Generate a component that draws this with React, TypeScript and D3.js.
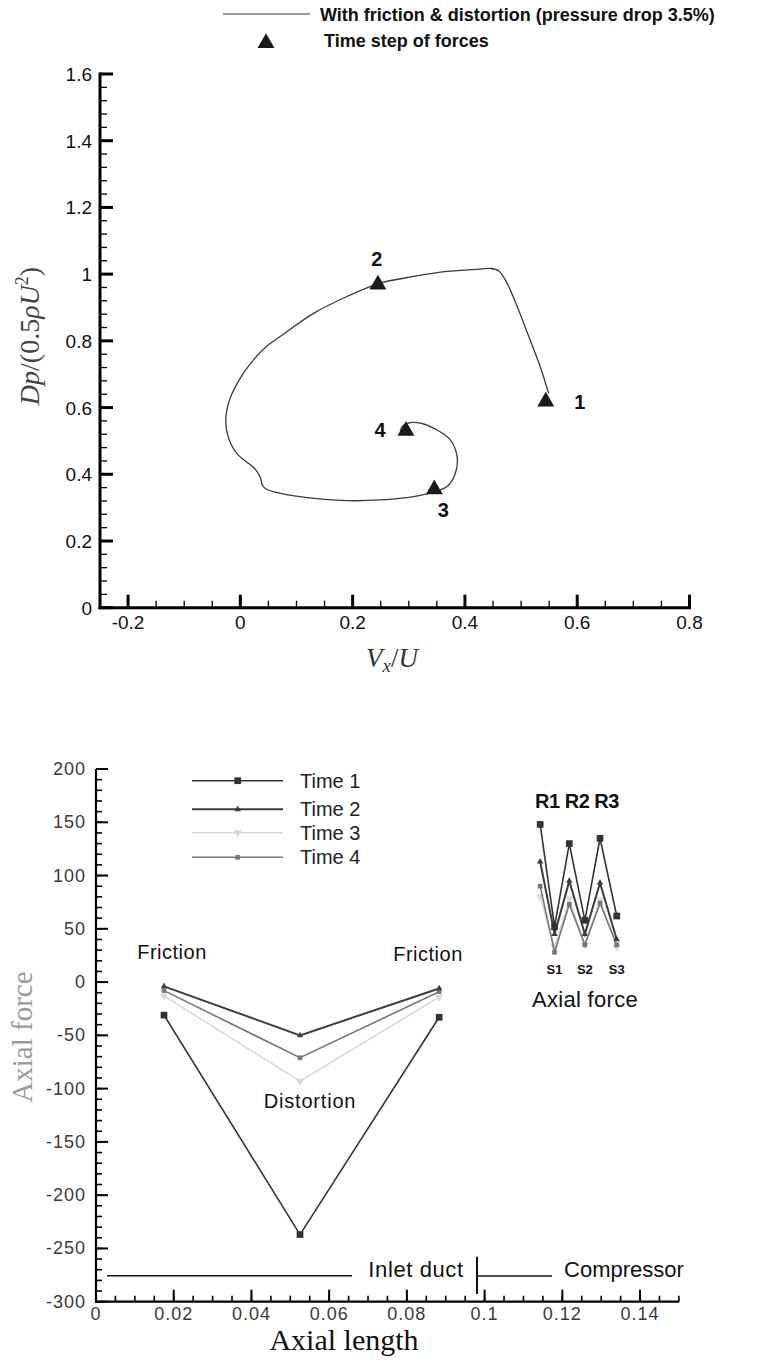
import React from 'react'
import * as d3 from 'd3'

// ---- top chart: pressure / velocity trajectory ----
const trajX = [0.549, 0.534, 0.516, 0.493, 0.475, 0.46, 0.445, 0.427, 0.368, 0.309, 0.249, 0.19, 0.131, 0.071, 0.046, 0.025, 0.007, -0.007, -0.018, -0.024, -0.026, -0.024, -0.016, -0.004, 0.011, 0.023, 0.03, 0.036, 0.039, 0.046, 0.071, 0.131, 0.19, 0.249, 0.309, 0.346, 0.368, 0.383, 0.386, 0.374, 0.35, 0.321, 0.303, 0.288, 0.285]
const trajY = [0.643, 0.723, 0.803, 0.903, 0.973, 1.01, 1.017, 1.015, 1.008, 0.993, 0.973, 0.933, 0.883, 0.813, 0.782, 0.746, 0.707, 0.668, 0.629, 0.593, 0.563, 0.527, 0.488, 0.458, 0.437, 0.422, 0.407, 0.389, 0.368, 0.356, 0.343, 0.328, 0.321, 0.323, 0.333, 0.348, 0.363, 0.403, 0.453, 0.503, 0.533, 0.553, 0.555, 0.543, 0.528]
const stepX = [0.544, 0.245, 0.3455, 0.295]
const stepY = [0.618, 0.969, 0.355, 0.53]
const stepLabels = ['1', '2', '3', '4']
const topXTicks = [-0.2, 0, 0.2, 0.4, 0.6, 0.8]
const topXTickLabels = ['-0.2', '0', '0.2', '0.4', '0.6', '0.8']
const topYTicks = [0, 0.2, 0.4, 0.6, 0.8, 1, 1.2, 1.4, 1.6]
const topYTickLabels = ['0', '0.2', '0.4', '0.6', '0.8', '1', '1.2', '1.4', '1.6']

// ---- bottom chart: axial force ----
const axialX = [0.0175, 0.0525, 0.0883]
const time1 = [-31, -237, -33]
const time2 = [-4, -50, -6]
const time3 = [-13, -93, -14]
const time4 = [-8, -71, -9]
const insetX = [0.1143, 0.118, 0.1218, 0.1258, 0.1297, 0.134]
const time1Inset = [148, 52, 130, 58, 135, 62]
const time2Inset = [113, 45, 95, 45, 93, 40]
const time3Inset = [80, 33, 78, 35, 77, 33]
const time4Inset = [90, 28, 73, 35, 74, 35]
const seriesNames = ['Time 1', 'Time 2', 'Time 3', 'Time 4']
const botXTicks = [0, 0.02, 0.04, 0.06, 0.08, 0.1, 0.12, 0.14]
const botXTickLabels = ['0', '0.02', '0.04', '0.06', '0.08', '0.1', '0.12', '0.14']
const botYTicks = [200, 150, 100, 50, 0, -50, -100, -150, -200, -250, -300]
const botYTickLabels = ['200', '150', '100', '50', '0', '-50', '-100', '-150', '-200', '-250', '-300']

const SANS = 'Liberation Sans, Arial, Helvetica, sans-serif'
const SERIF = 'Liberation Serif, Times New Roman, serif'

const seriesStyle = [
  { color: '#333', width: 1.6, shape: d3.symbolSquare, size: 45, rot: 0 },
  { color: '#3c3c3c', width: 2, shape: d3.symbolTriangle, size: 18, rot: 0 },
  { color: '#d8d8d8', width: 1.6, shape: d3.symbolTriangle, size: 30, rot: 180 },
  { color: '#777', width: 1.6, shape: d3.symbolSquare, size: 22, rot: 0 },
]

export default function App() {
  // top scales
  const xT = d3.scaleLinear().domain([-0.25, 0.8]).range([100, 689.5])
  const yT = d3.scaleLinear().domain([0, 1.6]).range([607.7, 74])
  const traj = d3.line<number>()
    .x(i => xT(trajX[i]))
    .y(i => yT(trajY[i]))
    .curve(d3.curveCatmullRom.alpha(0.5))(d3.range(trajX.length))
  const tri = d3.symbol().type(d3.symbolTriangle).size(125)()
  const labelOffsets = [[34, 7], [-1, -18], [9, 28], [-26, 6]]

  const topYMinor = d3.range(0, 1.6001, 0.04)
  const topXMinor = d3.range(-0.25, 0.8001, 0.05)

  // bottom scales
  const xB = d3.scaleLinear().domain([0, 0.15]).range([96, 678.9])
  const yB = d3.scaleLinear().domain([-300, 200]).range([1301.7, 769])
  const botYMinor = d3.range(-300, 200.001, 10)
  const botXMinor = d3.range(0, 0.15001, 0.005)

  const mainSeries = [time1, time2, time3, time4]
  const insetSeries = [time1Inset, time2Inset, time3Inset, time4Inset]
  const drawOrder = [2, 3, 1, 0]

  const lineB = (xs: number[], ys: number[]) =>
    d3.line<number>().x(i => xB(xs[i])).y(i => yB(ys[i]))(d3.range(xs.length))

  const marker = (s: number, x: number, y: number, k: string) => {
    const st = seriesStyle[s]
    return (
      <path key={k} d={d3.symbol().type(st.shape).size(st.size)() || ''}
        transform={`translate(${x},${y}) rotate(${st.rot})`} fill={st.color} />
    )
  }

  const legendY = [780.7, 809.3, 832.7, 857.3]

  return (
    <div style={{ position: 'absolute', left: 0, top: 0 }}>
      <svg width={778} height={1363} style={{ display: 'block', background: '#fff' }}>
        {/* ===== top legend ===== */}
        <line x1={223} x2={310} y1={14} y2={14} stroke="#333" strokeWidth={1.2} />
        <text x={320} y={20.5} fontFamily={SANS} fontWeight="bold" fontSize={18} fill="#111">
          With friction &amp; distortion (pressure drop 3.5%)
        </text>
        <path d={tri || ''} transform="translate(266,43)" fill="#1a1a1a" />
        <text x={324} y={47} fontFamily={SANS} fontWeight="bold" fontSize={18} fill="#111">Time step of forces</text>

        {/* ===== top axes ===== */}
        <g stroke="#000">
          <line x1={xT(-0.25)} x2={xT(-0.25)} y1={yT(0) + 1.5} y2={yT(1.6) - 1.5} strokeWidth={3} />
          <line x1={xT(-0.25) - 1.5} x2={xT(0.8) + 1.5} y1={yT(0)} y2={yT(0)} strokeWidth={3} />
          {topYMinor.map((v, i) => (
            <line key={'tym' + i} x1={xT(-0.25)} x2={xT(-0.25) + 7} y1={yT(v)} y2={yT(v)} strokeWidth={1.3} />
          ))}
          {topYTicks.map((v, i) => (
            <line key={'tyM' + i} x1={xT(-0.25)} x2={xT(-0.25) + 13} y1={yT(v)} y2={yT(v)} strokeWidth={3} />
          ))}
          {topXMinor.map((v, i) => (
            <line key={'txm' + i} x1={xT(v)} x2={xT(v)} y1={yT(0)} y2={yT(0) - 7} strokeWidth={1.3} />
          ))}
          {topXTicks.map((v, i) => (
            <line key={'txM' + i} x1={xT(v)} x2={xT(v)} y1={yT(0)} y2={yT(0) - 13} strokeWidth={3} />
          ))}
        </g>
        <g fontFamily={SANS} fontSize={19} fill="#111">
          {topYTicks.map((v, i) => (
            <text key={'tyl' + i} x={92} y={yT(v) + 7} textAnchor="end">{topYTickLabels[i]}</text>
          ))}
          {topXTicks.map((v, i) => (
            <text key={'txl' + i} x={xT(v)} y={629} textAnchor="middle">{topXTickLabels[i]}</text>
          ))}
        </g>
        <text x={392} y={667} textAnchor="middle" fontFamily={SERIF} fontSize={27} fill="#333">
          <tspan fontStyle="italic">V</tspan>
          <tspan fontStyle="italic" fontSize={19} dy={5}>x</tspan>
          <tspan dy={-5}>/</tspan>
          <tspan fontStyle="italic">U</tspan>
        </text>
        <text transform="translate(39,336) rotate(-90)" textAnchor="middle" fontFamily={SERIF} fontSize={28} fill="#444">
          <tspan fontStyle="italic">Dp</tspan>
          <tspan>/(0.5</tspan>
          <tspan fontStyle="italic">ρU</tspan>
          <tspan fontSize={18} dy={-11}>2</tspan>
          <tspan dy={11}>)</tspan>
        </text>

        {/* ===== top trajectory ===== */}
        <path d={traj || ''} fill="none" stroke="#3a3a3a" strokeWidth={1.3} />
        {stepX.map((v, i) => (
          <g key={'st' + i}>
            <path d={tri || ''} transform={`translate(${xT(v)},${yT(stepY[i])})`} fill="#1a1a1a" />
            <text x={xT(v) + labelOffsets[i][0]} y={yT(stepY[i]) + labelOffsets[i][1]} textAnchor="middle"
              fontFamily={SANS} fontWeight="bold" fontSize={20} fill="#111">{stepLabels[i]}</text>
          </g>
        ))}

        {/* ===== bottom axes ===== */}
        <g stroke="#000">
          <line x1={xB(0)} x2={xB(0)} y1={yB(-300) + 1} y2={yB(200)} strokeWidth={2.2} />
          <line x1={xB(0) - 1} x2={xB(0.15)} y1={yB(-300)} y2={yB(-300)} strokeWidth={2.2} />
          {botYMinor.map((v, i) => (
            <line key={'bym' + i} x1={xB(0)} x2={xB(0) + 6} y1={yB(v)} y2={yB(v)} strokeWidth={1.6} />
          ))}
          {botYTicks.map((v, i) => (
            <line key={'byM' + i} x1={xB(0)} x2={xB(0) + 12} y1={yB(v)} y2={yB(v)} strokeWidth={2} />
          ))}
          {botXMinor.map((v, i) => (
            <line key={'bxm' + i} x1={xB(v)} x2={xB(v)} y1={yB(-300)} y2={yB(-300) - 6} strokeWidth={1.6} />
          ))}
          {botXTicks.map((v, i) => (
            <line key={'bxM' + i} x1={xB(v)} x2={xB(v)} y1={yB(-300)} y2={yB(-300) - 12} strokeWidth={2} />
          ))}
        </g>
        <g fontFamily={SANS} fontSize={18} fill="#3a3a3a" letterSpacing={1}>
          {botYTicks.map((v, i) => (
            <text key={'byl' + i} x={86} y={yB(v) + 6} textAnchor="end">{botYTickLabels[i]}</text>
          ))}
          {botXTicks.map((v, i) => (
            <text key={'bxl' + i} x={xB(v)} y={1320} textAnchor="middle">{botXTickLabels[i]}</text>
          ))}
        </g>
        <text transform="translate(32,1037) rotate(-90)" textAnchor="middle" fontFamily={SERIF} fontSize={29} fill="#9a9a9a">Axial force</text>
        <text x={344} y={1350} textAnchor="middle" fontFamily={SERIF} fontSize={30} fill="#111">Axial length</text>

        {/* ===== bottom series ===== */}
        {drawOrder.map(s => (
          <g key={'ser' + s}>
            <path d={lineB(axialX, mainSeries[s]) || ''} fill="none" stroke={seriesStyle[s].color} strokeWidth={seriesStyle[s].width} />
            <path d={lineB(insetX, insetSeries[s]) || ''} fill="none" stroke={seriesStyle[s].color} strokeWidth={seriesStyle[s].width} />
            {axialX.map((x, i) => marker(s, xB(x), yB(mainSeries[s][i]), `m${s}-${i}`))}
            {insetX.map((x, i) => marker(s, xB(x), yB(insetSeries[s][i]), `n${s}-${i}`))}
          </g>
        ))}

        {/* legend */}
        {seriesNames.map((name, s) => (
          <g key={'lg' + s}>
            <line x1={192} x2={283} y1={legendY[s]} y2={legendY[s]} stroke={seriesStyle[s].color} strokeWidth={seriesStyle[s].width} />
            {marker(s, 237.7, legendY[s], 'lm' + s)}
            <text x={300} y={legendY[s] + 7} fontFamily={SANS} fontSize={20} fill="#222">{name}</text>
          </g>
        ))}

        {/* annotations */}
        <g fontFamily={SANS} fill="#111">
          <text x={172} y={959} textAnchor="middle" fontSize={20} letterSpacing={0.5}>Friction</text>
          <text x={428} y={961} textAnchor="middle" fontSize={20} letterSpacing={0.5}>Friction</text>
          <text x={310} y={1108} textAnchor="middle" fontSize={20} letterSpacing={0.8}>Distortion</text>
          <text x={577} y={808} textAnchor="middle" fontSize={20} fontWeight="bold" letterSpacing={-0.5}>R1 R2 R3</text>
          <text x={xB(insetX[1])} y={974} textAnchor="middle" fontSize={13} fontWeight="bold">S1</text>
          <text x={xB(insetX[3])} y={974} textAnchor="middle" fontSize={13} fontWeight="bold">S2</text>
          <text x={xB(insetX[5])} y={974} textAnchor="middle" fontSize={13} fontWeight="bold">S3</text>
          <text x={585} y={1007} textAnchor="middle" fontSize={22} letterSpacing={0.3}>Axial force</text>
          <text x={416} y={1277} textAnchor="middle" fontSize={22} letterSpacing={0.6}>Inlet duct</text>
          <text x={624} y={1277} textAnchor="middle" fontSize={22}>Compressor</text>
        </g>
        <g stroke="#111" strokeWidth={1.6}>
          <line x1={107} x2={352} y1={1275.7} y2={1275.7} />
          <line x1={477} x2={477} y1={1256.7} y2={1294} strokeWidth={2} />
          <line x1={477} x2={552} y1={1276} y2={1276} />
        </g>
      </svg>
    </div>
  )
}
